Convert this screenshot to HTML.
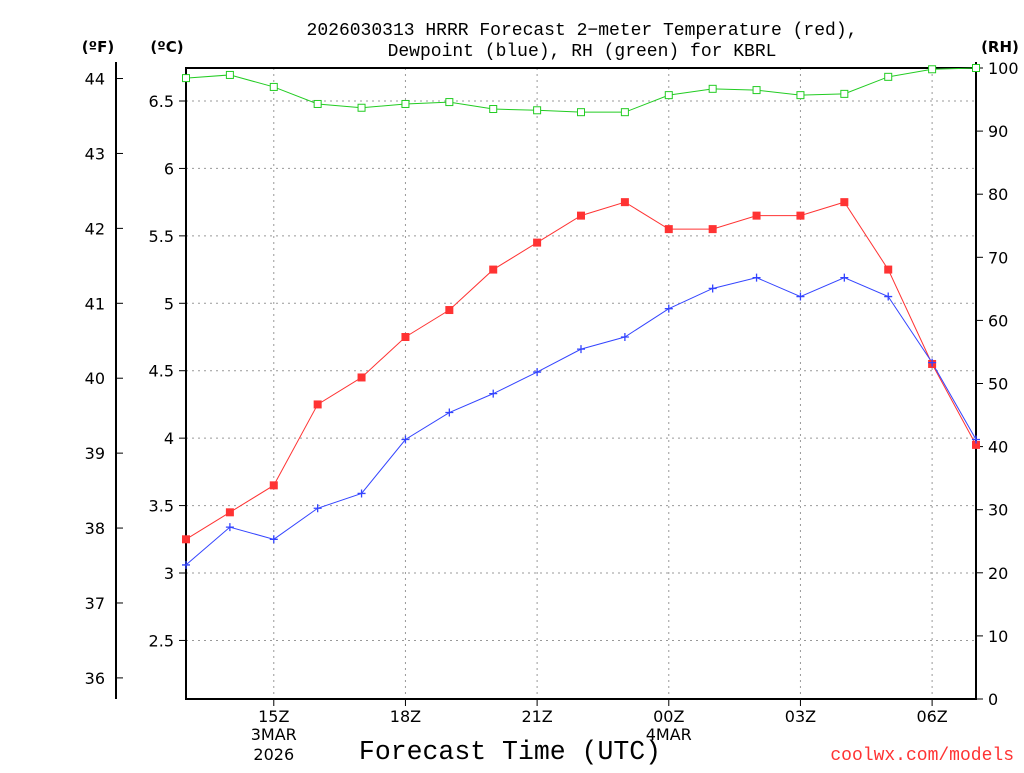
<!DOCTYPE html>
<html><head><meta charset="utf-8"><style>
body{margin:0;background:#fff;}
svg text{font-family:"DejaVu Sans","Liberation Sans",sans-serif;fill:#000;}
svg text.mono{font-family:"Liberation Mono","DejaVu Sans Mono",monospace;}
</style></head><body>
<svg id="chart" width="1024" height="768" xmlns="http://www.w3.org/2000/svg">
<g id="grid"></g><g id="axes"></g><g id="series"></g>
<text class="mono" x="582" y="35" font-size="18" text-anchor="middle">2026030313 HRRR Forecast 2−meter Temperature (red),</text>
<text class="mono" x="582" y="56" font-size="18" text-anchor="middle">Dewpoint (blue), RH (green) for KBRL</text>
<text x="98" y="52" font-size="15" font-weight="bold" text-anchor="middle">(ºF)</text>
<text x="167" y="52" font-size="15" font-weight="bold" text-anchor="middle">(ºC)</text>
<text x="1000" y="52" font-size="15" font-weight="bold" text-anchor="middle">(RH)</text>
<text class="mono" x="510" y="759" font-size="26.5" text-anchor="middle">Forecast Time (UTC)</text>
<text class="mono" x="1014" y="760" font-size="18" text-anchor="end" style="fill:#ff3333">coolwx.com/models</text>
</svg>
<script>
const hours=[13,14,15,16,17,18,19,20,21,22,23,24,25,26,27,28,29,30,31];
const tempC=[3.25,3.45,3.65,4.25,4.45,4.75,4.95,5.25,5.45,5.65,5.75,5.55,5.55,5.65,5.65,5.75,5.25,4.55,3.95];
const dewC=[3.06,3.34,3.25,3.48,3.59,3.99,4.19,4.33,4.49,4.66,4.75,4.96,5.11,5.19,5.05,5.19,5.05,4.56,3.99];
const rh=[98.4,98.9,97.0,94.3,93.7,94.3,94.6,93.5,93.3,93.0,93.0,95.7,96.7,96.5,95.7,95.9,98.6,99.8,100];
const cTicks=[2.5,3,3.5,4,4.5,5,5.5,6,6.5];
const fTicks=[36,37,38,39,40,41,42,43,44];
const rhTicks=[0,10,20,30,40,50,60,70,80,90,100];
const xTickHours=[15,18,21,24,27,30];
const xTickLabels=["15Z","18Z","21Z","00Z","03Z","06Z"];
const L=186,R=976,T=68,B=699;
const xs=h=>L+(h-13)*(R-L)/18;
const yc=c=>101+(6.5-c)*134.86;
const yf=f=>yc((f-32)*5/9);
const yr=r=>B-r*(B-T)/100;
const NS="http://www.w3.org/2000/svg";
function mk(p,tag,a){const e=document.createElementNS(NS,tag);for(const k in a)e.setAttribute(k,a[k]);p.appendChild(e);return e;}
const grid=document.getElementById('grid'),axes=document.getElementById('axes'),ser=document.getElementById('series');
cTicks.forEach(c=>{const y=yc(c);
 const g=mk(grid,'line',{x1:L,x2:R,y1:y,y2:y,stroke:'#999','stroke-dasharray':'2,4'});
 
 
 mk(axes,'line',{x1:L-7,x2:L,y1:y,y2:y,stroke:'#000'});
 const t=mk(axes,'text',{x:L-12,y:y+6,'font-size':16,'text-anchor':'end'});t.textContent=c;
 
 
});
fTicks.forEach(f=>{const y=yf(f);
 mk(axes,'line',{x1:116,x2:123,y1:y,y2:y,stroke:'#000'});
 const t=mk(axes,'text',{x:105,y:y+6,'font-size':16,'text-anchor':'end'});t.textContent=f;
 
 
});
rhTicks.forEach(r=>{const y=yr(r);
 mk(axes,'line',{x1:R,x2:R+7,y1:y,y2:y,stroke:'#000'});
 const t=mk(axes,'text',{x:988,y:y+6,'font-size':16});t.textContent=r;
 
 
});
xTickHours.forEach((h,i)=>{const x=xs(h);
 const g=mk(grid,'line',{x1:x,x2:x,y1:T,y2:B,stroke:'#999','stroke-dasharray':'2,4'});
 
 
 mk(axes,'line',{x1:x,x2:x,y1:B,y2:B+7,stroke:'#000'});
 const t=mk(axes,'text',{x:x,y:722,'font-size':16,'text-anchor':'middle'});t.textContent=xTickLabels[i];
 
 
});
[[xs(15),740,"3MAR"],[xs(15),760,"2026"],[xs(24),740,"4MAR"]].forEach(d=>{
 const t=mk(axes,'text',{x:d[0],y:d[1],'font-size':16,'text-anchor':'middle'});t.textContent=d[2];
 
 
});
const fr=mk(axes,'rect',{x:L,y:T,width:R-L,height:B-T,fill:'none',stroke:'#000','stroke-width':2});


mk(axes,'line',{x1:116,x2:116,y1:62,y2:B,stroke:'#000','stroke-width':2});
mk(axes,'line',{x1:R,x2:R,y1:62,y2:B,stroke:'#000','stroke-width':2});
function line(vals,yf2,col,name){
 const p=mk(ser,'polyline',{points:vals.map((v,i)=>xs(hours[i])+','+yf2(v)).join(' '),fill:'none',stroke:col,'stroke-width':1});
 
 
}
line(rh,yr,'#22cc22','rh');
line(tempC,yc,'#ff3333','temperature');
line(dewC,yc,'#3344ff','dewpoint');
rh.forEach((v,i)=>{const m=mk(ser,'rect',{x:xs(hours[i])-3.5,y:yr(v)-3.5,width:7,height:7,fill:'#fff',stroke:'#22cc22'});
 
 });
tempC.forEach((v,i)=>{const m=mk(ser,'rect',{x:xs(hours[i])-4,y:yc(v)-4,width:8,height:8,fill:'#ff3333'});
 
 });
dewC.forEach((v,i)=>{const x=xs(hours[i]),y=yc(v);
 const m=mk(ser,'path',{d:`M${x-4},${y}H${x+4}M${x},${y-4}V${y+4}`,stroke:'#3344ff','stroke-width':1.3});
 
 });
</script>
</body></html>
